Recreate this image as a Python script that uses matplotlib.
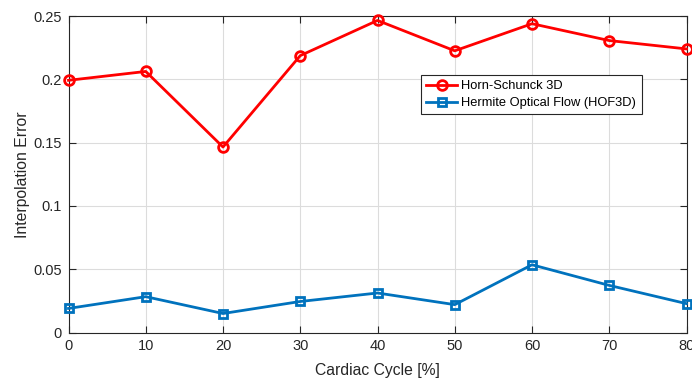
import matplotlib
matplotlib.use("Agg")
import matplotlib.pyplot as plt

cycle = [0, 10, 20, 30, 40, 50, 60, 70, 80]
horn_schunck = [0.1992, 0.2062, 0.1465, 0.2187, 0.2465, 0.2225, 0.2439, 0.2306, 0.2240]
hof3d = [0.0190, 0.0283, 0.0150, 0.0245, 0.0312, 0.0220, 0.0535, 0.0372, 0.0228]
xticks = [0, 10, 20, 30, 40, 50, 60, 70, 80]
yticks = [0, 0.05, 0.1, 0.15, 0.2, 0.25]
yticklabels = ["0", "0.05", "0.1", "0.15", "0.2", "0.25"]

plt.rcParams['font.family'] = ['Liberation Sans', 'DejaVu Sans']

fig = plt.figure(figsize=(6.92, 3.81), dpi=100)
ax = fig.add_axes([68.5/692, 1 - 332.5/381, (686.5-68.5)/692, (332.5-16)/381])

ax.plot(cycle, horn_schunck, color=(1, 0, 0), lw=2, marker='o', ms=7,
        mfc='none', mew=2, label='Horn-Schunck 3D', clip_on=False, zorder=3)
ax.plot(cycle, hof3d, color=(0, 0.447, 0.741), lw=2, marker='s', ms=6,
        mfc='none', mew=2, label='Hermite Optical Flow (HOF3D)', clip_on=False, zorder=3)

ax.set_xlim(0, 80)
ax.set_ylim(0, 0.25)
ax.set_xticks(xticks)
ax.set_yticks(yticks)
ax.set_yticklabels(yticklabels)
ax.grid(True, color='#dcdcdc', lw=0.8)
ax.set_axisbelow(True)
ax.tick_params(direction='in', top=True, right=True, length=5, width=0.8,
               colors='#262626', labelsize=10.5, pad=5)
for s in ax.spines.values():
    s.set_color('#262626')
    s.set_linewidth(0.8)
ax.set_xlabel('Cardiac Cycle [%]', fontsize=11.3, color='#262626', labelpad=7)
ax.set_ylabel('Interpolation Error', fontsize=11.3, color='#262626', labelpad=2)

leg = ax.legend(loc='upper left', bbox_to_anchor=((421-68.5)/618, 1 - (75-16)/316.5),
                frameon=True, fancybox=False, fontsize=9.3, handlelength=2.4,
                borderaxespad=0, borderpad=0.42, labelspacing=0.35, handletextpad=0.3,
                edgecolor='#262626', framealpha=1)
leg.get_frame().set_linewidth(0.8)

fig.savefig('out.png', dpi=100)
